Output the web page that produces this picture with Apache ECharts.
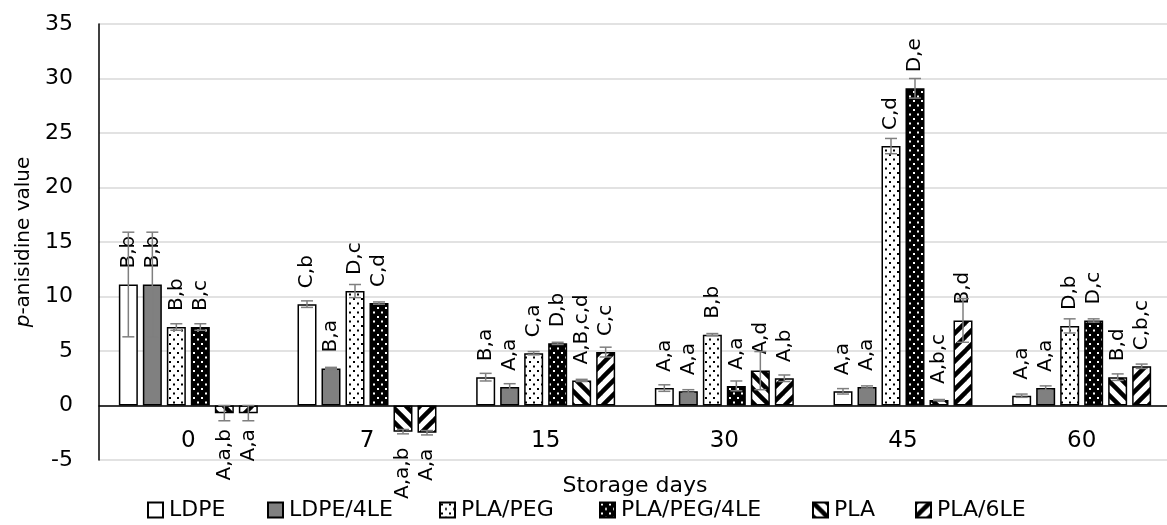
<!DOCTYPE html>
<html>
<head>
<meta charset="utf-8">
<script src="https://cdn.jsdelivr.net/npm/echarts@6/dist/echarts.min.js"></script>
<style>
  html, body { margin: 0; padding: 0; background: #fff; }
  #chart { width: 1167px; height: 525px; }
</style>
</head>
<body>
<div id="chart"></div>
<script>
// Storage days on the category axis
const days = ['0', '7', '15', '30', '45', '60'];
const seriesNames = ['LDPE', 'LDPE/4LE', 'PLA/PEG', 'PLA/PEG/4LE', 'PLA', 'PLA/6LE'];

// Mean p-anisidine value per packaging, one entry per storage day
const ldpe      = [11.1, 9.3, 2.6, 1.6, 1.3, 0.9];
const ldpe4le   = [11.1, 3.4, 1.7, 1.3, 1.7, 1.6];
const plaPeg    = [7.2, 10.5, 4.8, 6.5, 23.8, 7.3];
const plaPeg4le = [7.2, 9.4, 5.7, 1.8, 29.1, 7.8];
const pla       = [-0.7, -2.4, 2.3, 3.2, 0.5, 2.6];
const pla6le    = [-0.7, -2.5, 4.9, 2.5, 7.8, 3.6];

// Standard deviations
const ldpeErr      = [4.8, 0.3, 0.35, 0.3, 0.25, 0.15];
const ldpe4leErr   = [4.8, 0.1, 0.3, 0.15, 0.1, 0.2];
const plaPegErr    = [0.3, 0.6, 0.15, 0.1, 0.7, 0.65];
const plaPeg4leErr = [0.3, 0.1, 0.1, 0.45, 0.9, 0.15];
const plaErr       = [0.7, 0.2, 0.1, 1.75, 0.05, 0.3];
const pla6leErr    = [0.7, 0.2, 0.45, 0.3, 2.0, 0.2];

// Significance letters
const ldpeLbl      = ['B,b', 'C,b', 'B,a', 'A,a', 'A,a', 'A,a'];
const ldpe4leLbl   = ['B,b', 'B,a', 'A,a', 'A,a', 'A,a', 'A,a'];
const plaPegLbl    = ['B,b', 'D,c', 'C,a', 'B,b', 'C,d', 'D,b'];
const plaPeg4leLbl = ['B,c', 'C,d', 'D,b', 'A,a', 'D,e', 'D,c'];
const plaLbl       = ['A,a,b', 'A,a,b', 'A,B,c,d', 'A,d', 'A,b,c', 'B,d'];
const pla6leLbl    = ['A,a', 'A,a', 'C,c', 'A,b', 'B,d', 'C,b,c'];

const yTicks = { min: -5, max: 35, interval: 5 };

const values = [ldpe, ldpe4le, plaPeg, plaPeg4le, pla, pla6le];
const errors = [ldpeErr, ldpe4leErr, plaPegErr, plaPeg4leErr, plaErr, pla6leErr];
const labels = [ldpeLbl, ldpe4leLbl, plaPegLbl, plaPeg4leLbl, plaLbl, pla6leLbl];

// Layout
const FONT = '"DejaVu Sans", sans-serif';
const BAR_W = 19, BAR_GAP = 5;
const W = 1167, H = 525;
const GRID = { left: 99, right: -4, top: 24, bottom: 65 };
const legendLeft = [147, 267, 439, 599, 812, 915];
// category axis sits on the zero line: lift it from the grid bottom by the -5..0 span
const plotH = H - GRID.top - GRID.bottom;
const zeroLift = plotH * (0 - yTicks.min) / (yTicks.max - yTicks.min);

// Fill patterns
function makeCanvas(w, h) {
  const c = document.createElement('canvas');
  c.width = w; c.height = h;
  return c;
}
function dots(bg, fg) {
  const c = makeCanvas(8, 9), g = c.getContext('2d');
  g.fillStyle = bg; g.fillRect(0, 0, 8, 9);
  g.fillStyle = fg;
  g.fillRect(1, 1, 2, 2);
  g.fillRect(5, 5.5, 2, 2);
  return c;
}
function stripes(dir) {
  const s = 14, c = makeCanvas(s, s), g = c.getContext('2d');
  g.fillStyle = '#fff'; g.fillRect(0, 0, s, s);
  g.strokeStyle = '#000'; g.lineWidth = 4.5; g.lineCap = 'square';
  for (let k = -1; k <= 1; k++) {
    g.beginPath();
    if (dir === 'back') { g.moveTo(k * s, 0); g.lineTo(k * s + s, s); }
    else { g.moveTo(k * s, s); g.lineTo(k * s + s, 0); }
    g.stroke();
  }
  return c;
}
const fills = [
  '#ffffff',
  '#808080',
  { image: dots('#ffffff', '#000000'), repeat: 'repeat' },
  { image: dots('#000000', '#ffffff'), repeat: 'repeat' },
  { image: stripes('back'), repeat: 'repeat' },
  { image: stripes('fwd'), repeat: 'repeat' }
];

const barSeries = seriesNames.map((name, s) => ({
  name,
  type: 'bar',
  barWidth: BAR_W,
  barGap: (BAR_GAP / BAR_W * 100).toFixed(1) + '%',
  itemStyle: { color: fills[s], borderColor: '#000', borderWidth: 1.5 },
  data: values[s].map((v, i) => ({
    value: v,
    label: {
      show: true,
      position: v >= 0 ? 'top' : 'bottom',
      distance: 16,
      rotate: 90,
      align: v >= 0 ? 'left' : 'right',
      verticalAlign: 'middle',
      color: '#000',
      fontSize: 20,
      fontFamily: FONT,
      formatter: labels[s][i]
    }
  }))
}));

// Error bars drawn on top of every bar
const errData = [];
values.forEach((arr, s) => arr.forEach((v, i) => errData.push([i, v, errors[s][i], s])));
const errSeries = {
  type: 'custom',
  name: 'err',
  z: 5,
  silent: true,
  data: errData,
  renderItem(params, api) {
    const i = api.value(0), v = api.value(1), e = api.value(2), s = api.value(3);
    const total = 6 * BAR_W + 5 * BAR_GAP;
    const c = api.coord([i, v]);
    const x = c[0] - total / 2 + BAR_W / 2 + s * (BAR_W + BAR_GAP);
    const hi = api.coord([i, v + e])[1];
    const lo = api.coord([i, v - e])[1];
    const st = { stroke: '#7f7f7f', lineWidth: 1.5 };
    return {
      type: 'group',
      children: [
        { type: 'line', shape: { x1: x, y1: hi, x2: x, y2: lo }, style: st },
        { type: 'line', shape: { x1: x - 6, y1: hi, x2: x + 6, y2: hi }, style: st },
        { type: 'line', shape: { x1: x - 6, y1: lo, x2: x + 6, y2: lo }, style: st }
      ]
    };
  }
};

// One legend block per series so each entry keeps its own spot
const legends = seriesNames.map((n, i) => ({
  data: [n],
  left: legendLeft[i],
  top: 499,
  padding: 0,
  icon: 'rect',
  itemWidth: 15,
  itemHeight: 15,
  textStyle: { fontSize: 22, fontFamily: FONT, color: '#000', padding: [0, 0, 0, 1] }
}));

const chart = echarts.init(document.getElementById('chart'), null, { renderer: 'canvas' });
chart.setOption({
  animation: false,
  backgroundColor: '#fff',
  grid: Object.assign({ containLabel: false, outerBoundsMode: 'none' }, GRID),
  legend: legends,
  xAxis: {
    type: 'category',
    data: days,
    position: 'bottom',
    offset: -zeroLift,
    name: 'Storage days',
    nameLocation: 'middle',
    nameGap: 70,
    nameTextStyle: { fontSize: 22, fontFamily: FONT, color: '#000' },
    axisLine: { onZero: false, lineStyle: { color: '#000', width: 1.5 } },
    axisTick: { show: false },
    axisLabel: { margin: 24, fontSize: 23, fontFamily: FONT, color: '#000' },
    splitLine: { show: false }
  },
  yAxis: {
    type: 'value',
    min: yTicks.min,
    max: yTicks.max,
    interval: yTicks.interval,
    name: '{i|p}-anisidine value',
    nameLocation: 'middle',
    nameGap: 64,
    nameTextStyle: {
      fontSize: 20, fontFamily: FONT, color: '#000',
      rich: { i: { fontSize: 20, fontFamily: FONT, fontStyle: 'italic', color: '#000' } }
    },
    axisLine: { show: true, lineStyle: { color: '#000', width: 1.5 } },
    axisTick: { show: false },
    axisLabel: { margin: 26, fontSize: 22, fontFamily: FONT, color: '#000' },
    splitLine: { lineStyle: { color: '#d9d9d9', width: 1.5 } }
  },
  series: [...barSeries, errSeries]
});
</script>
</body>
</html>
